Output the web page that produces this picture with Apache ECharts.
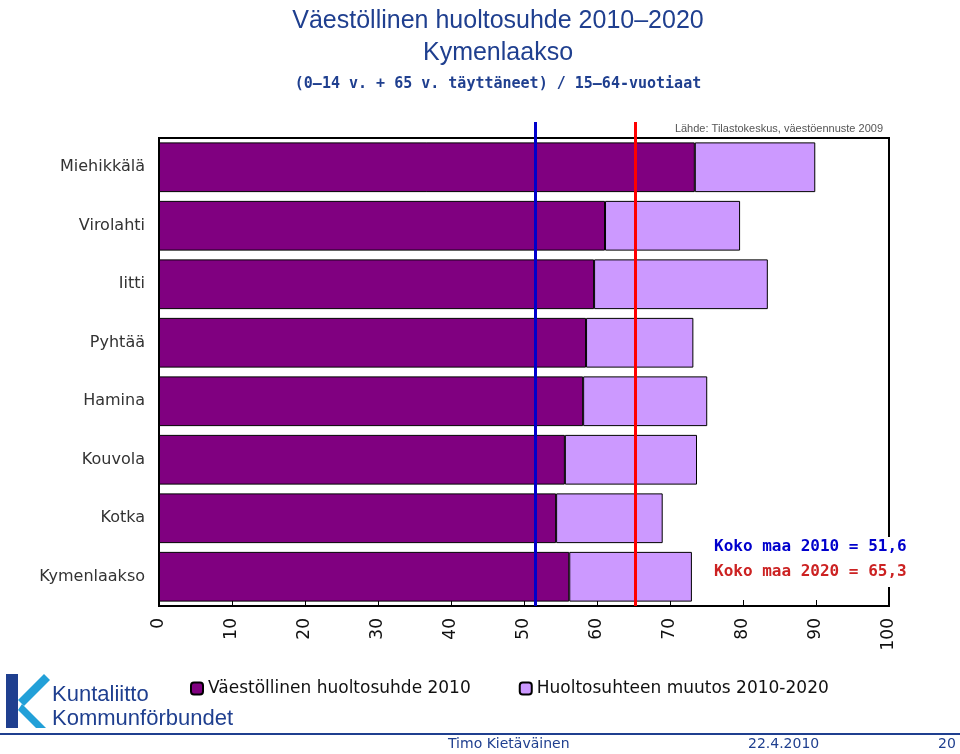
<!DOCTYPE html>
<html lang="fi">
<head>
    <meta charset="UTF-8">
    <title>Väestöllinen huoltosuhde</title>
    <script src="https://cdn.jsdelivr.net/npm/echarts@6/dist/echarts.min.js"></script>
    <style>
        html, body { margin: 0; padding: 0; background: #fff; }
        #main { width: 960px; height: 754px; }
    </style>
</head>
<body>
    <div id="main"></div>
    <script>
        var categories = ['Miehikkälä', 'Virolahti', 'Iitti', 'Pyhtää', 'Hamina', 'Kouvola', 'Kotka', 'Kymenlaakso'];
        var suhde2010 = [73.4, 61.1, 59.6, 58.5, 58.1, 55.6, 54.4, 56.2];
        var muutos = [16.5, 18.5, 23.8, 14.7, 17.0, 18.1, 14.6, 16.8];
        var kokoMaa2010 = 51.6;
        var kokoMaa2020 = 65.3;

        var myChart = echarts.init(document.getElementById('main'));
        var font = 'Liberation Sans';

        var option = {
            animation: false,
            backgroundColor: '#fff',
            title: [
                { text: 'Väestöllinen huoltosuhde 2010\u20132020\nKymenlaakso', left: 493, top: 0, textAlign: 'center',
                  textStyle: { color: '#1F3F8F', fontFamily: font, fontSize: 25, fontWeight: 'normal', lineHeight: 32 } },
                { text: '(0\u201314 v. + 65 v. täyttäneet) / 15\u201364-vuotiaat', left: 493, top: 72, textAlign: 'center',
                  textStyle: { color: '#1F3F8F', fontFamily: 'DejaVu Sans Mono', fontSize: 15, fontWeight: 'bold' } },
                { text: 'Lähde: Tilastokeskus, väestöennuste 2009', right: 72, top: 118,
                  textStyle: { color: '#555', fontFamily: font, fontSize: 11, fontWeight: 'normal' } }
            ],
            grid: { left: 159, right: 71, top: 138, bottom: 148, show: true, borderColor: '#000', borderWidth: 2 },
            legend: {
                bottom: 52, left: 185, itemGap: 48, itemWidth: 12, itemHeight: 12,
                textStyle: { fontFamily: 'DejaVu Sans', fontSize: 17, color: '#111' },
                data: ['Väestöllinen huoltosuhde 2010', 'Huoltosuhteen muutos 2010-2020']
            },
            xAxis: {
                type: 'value', min: 0, max: 100, interval: 10,
                splitLine: { show: false },
                axisLine: { show: true, lineStyle: { color: '#000' } },
                axisTick: { show: true, inside: true, length: 6, lineStyle: { color: '#000' } },
                axisLabel: { rotate: 90, margin: 12, fontFamily: 'DejaVu Sans', fontSize: 17, color: '#111' }
            },
            yAxis: {
                type: 'category', data: categories, inverse: true,
                axisLine: { show: true, lineStyle: { color: '#000' } },
                axisTick: { show: false },
                axisLabel: { fontFamily: 'DejaVu Sans', fontSize: 16, color: '#333', margin: 14 }
            },
            series: [
                {
                    name: 'Väestöllinen huoltosuhde 2010', type: 'bar', stack: 's', data: suhde2010,
                    barCategoryGap: '15%',
                    itemStyle: { color: '#800080', borderColor: '#000', borderWidth: 1 },
                    markLine: {
                        symbol: 'none', silent: true, label: { show: false },
                        data: [
                            [{ xAxis: kokoMaa2010, y: 122 }, { xAxis: kokoMaa2010, y: 606 }],
                        ],
                        lineStyle: { color: '#0000CC', width: 3, type: 'solid' }
                    }
                },
                {
                    name: 'Huoltosuhteen muutos 2010-2020', type: 'bar', stack: 's', data: muutos,
                    itemStyle: { color: '#CC99FF', borderColor: '#000', borderWidth: 1 },
                    markLine: {
                        symbol: 'none', silent: true, label: { show: false },
                        data: [
                            [{ xAxis: kokoMaa2020, y: 122 }, { xAxis: kokoMaa2020, y: 606 }],
                        ],
                        lineStyle: { color: '#FF0000', width: 3, type: 'solid' }
                    }
                }
            ],
            graphic: [
                { type: 'rect', left: 706, top: 537, shape: { width: 234, height: 50 }, style: { fill: '#fff' }, z: 100 },
                { type: 'text', left: 714, top: 539, z: 101,
                  style: { text: 'Koko maa 2010 = 51,6', fill: '#0000CC', font: 'bold 16px "DejaVu Sans Mono"' } },
                { type: 'text', left: 714, top: 564, z: 101,
                  style: { text: 'Koko maa 2020 = 65,3', fill: '#CC2222', font: 'bold 16px "DejaVu Sans Mono"' } },
                { type: 'text', left: 52, top: 683,
                  style: { text: 'Kuntaliitto\nKommunförbundet', fill: '#1F3F8F', font: '22px "Liberation Sans"', lineHeight: 24 } },
                { type: 'polygon', shape: { points: [[6, 674], [18, 674], [18, 728], [6, 728]] }, style: { fill: '#1F3F8F' } },
                { type: 'polygon', shape: { points: [[18, 700], [44, 674], [50, 680], [24, 706]] }, style: { fill: '#22A0D8' } },
                { type: 'polygon', shape: { points: [[22, 704], [46, 728], [36, 728], [18, 710]] }, style: { fill: '#22A0D8' } },
                { type: 'line', shape: { x1: 0, y1: 734, x2: 960, y2: 734 }, style: { stroke: '#1F3F8F', lineWidth: 2 } },
                { type: 'text', left: 448, top: 737, style: { text: 'Timo Kietäväinen', fill: '#1F3F8F', font: '14px "DejaVu Sans"' } },
                { type: 'text', left: 748, top: 737, style: { text: '22.4.2010', fill: '#1F3F8F', font: '14px "DejaVu Sans"' } },
                { type: 'text', left: 938, top: 737, style: { text: '20', fill: '#1F3F8F', font: '14px "DejaVu Sans"' } }
            ]
        };

        myChart.setOption(option);
    </script>
</body>
</html>
